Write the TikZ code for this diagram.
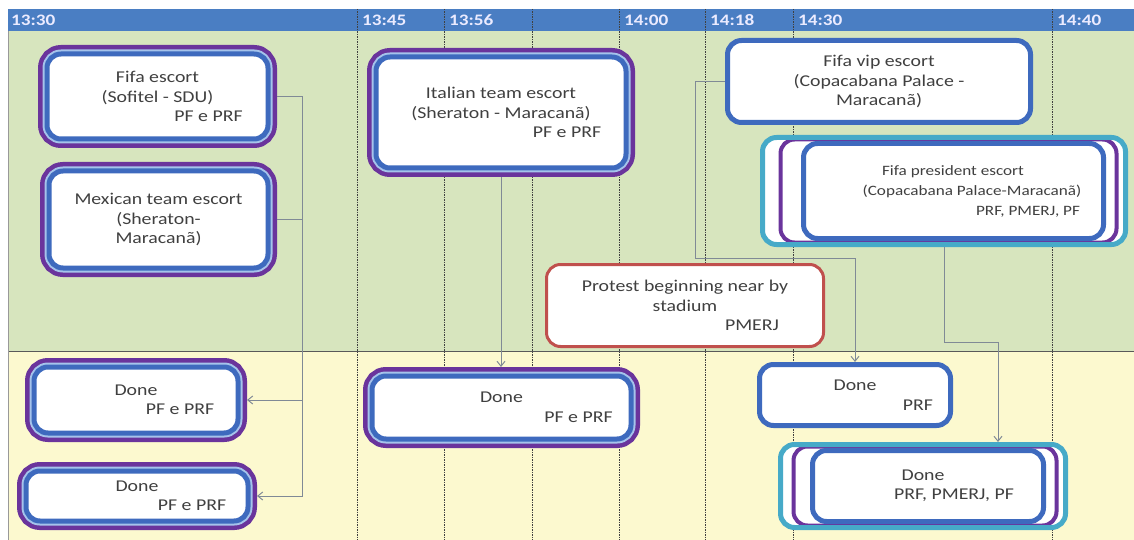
\documentclass[tikz,border=0pt]{standalone}
\usepackage{fontspec}
\setmainfont{Carlito}[FakeStretch=1.2]
\usetikzlibrary{positioning}
\usetikzlibrary{calc}
\usetikzlibrary{arrows.meta}

\definecolor{purpleC}{RGB}{106,52,156}
\definecolor{blueC}{RGB}{62,106,190}
\definecolor{lightC}{RGB}{165,195,235}
\definecolor{cyanC}{RGB}{70,170,200}
\definecolor{redC}{RGB}{192,80,77}
\definecolor{headC}{RGB}{74,126,195}
\definecolor{greenC}{RGB}{215,229,190}
\definecolor{yellowC}{RGB}{252,249,207}
\definecolor{linkC}{RGB}{128,138,150}
\definecolor{textC}{RGB}{64,64,64}

\begin{document}
\begin{tikzpicture}[
    x=1pt, y=-1pt,
    font=\fontsize{16.5}{19.5}\selectfont,
    box/.style={rounded corners=14pt, fill=white, text=textC, align=center, inner sep=0pt},
    escort/.style={box, preaction={draw=purpleC, line width=18pt}, preaction={draw=lightC, line width=9pt}, draw=blueC, line width=5pt, outer sep=9pt},
    plain/.style={box, draw=blueC, line width=5pt, outer sep=2.5pt},
    alert/.style={box, draw=redC, line width=3pt, outer sep=1.5pt},
    stacked/.style 2 args={box, draw=cyanC, line width=5pt, outer sep=2.5pt,
        path picture={
            \draw[draw=purpleC, line width=4pt, fill=white, rounded corners=14pt]
                ($(path picture bounding box.north west)+(#1,2)$) rectangle ($(path picture bounding box.south east)+(-9,-2)$);
            \draw[draw=blueC, line width=5pt, fill=white, rounded corners=14pt]
                ($(path picture bounding box.north west)+(#2,6)$) rectangle ($(path picture bounding box.south east)+(-22,-6)$);
        }},
    timelabel/.style={anchor=west, text=blue!8!white, font=\fontsize{16}{18}\selectfont\bfseries, inner sep=0pt},
    gridline/.style={black!75, line width=0.7pt, dash pattern=on 1.5pt off 1pt},
    wire/.style={draw=linkC, line width=1pt},
    link/.style={wire, -{Straight Barb[length=5pt, width=8pt]}}
]
\useasboundingbox (0,0) rectangle (1134,540);

% Background bands
\fill[headC] (8,9) rectangle (1134,31);
\fill[greenC] (8,31) rectangle (1134,351);
\fill[yellowC] (8,351) rectangle (1134,540);
\draw[black!65, line width=1pt] (8,351) -- (1134,351);
\draw[black!40, line width=0.8pt] (8,31) -- (8,540);

% Time grid
\node[timelabel] (t0) at (11,20) {13:30};
\foreach \x/\t [count=\i] in {357/13:45, 444/13:56, 619/14:00, 705/14:18, 793/14:30, 1052/14:40} {
    \draw[gridline] (\x,9) -- (\x,540);
    \node[timelabel] (t\i) at (\x+5,20) {\t};
}
\draw[gridline] (532,9) -- (532,540);

% Escorts
\node[escort, minimum width=221pt, minimum height=85pt] (fifa) at (157.5,96.5) {Fifa escort\\(Sofitel - SDU)\\\hspace*{102pt}PF e PRF};
\node[escort, minimum width=219pt, minimum height=97pt] (mex) at (158.5,219.5) {Mexican team escort\\(Sheraton-\\Maracanã)};
\node[escort, minimum width=250pt, minimum height=111pt] (ital) at (501,112.5) {Italian team escort\\(Sheraton - Maracanã)\\\hspace*{132pt}PF e PRF};
\node[plain, minimum width=303pt, minimum height=82pt] (vip) at (879,81.5) {Fifa vip escort\\(Copacabana Palace -\\Maracanã)};
\node[stacked={18}{41}, minimum width=363pt, minimum height=107pt, font=\fontsize{14.3}{20}\selectfont] (pres) at (944,191) {\hspace*{18pt}Fifa president escort\\\hspace*{56pt}(Copacabana Palace-Maracanã)\\\hspace*{168pt}PRF, PMERJ, PF};
\node[alert, minimum width=277pt, minimum height=82pt] (protest) at (685,305.5) {Protest beginning  near by\\stadium\\\hspace*{134pt}PMERJ};

% Done
\node[escort, minimum width=204pt, minimum height=66pt] (done1) at (136,400) {Done\\\hspace*{88pt}PF e PRF};
\node[escort, minimum width=222pt, minimum height=50pt] (done2) at (137,496) {Done\\\hspace*{110pt}PF e PRF};
\node[escort, minimum width=259pt, minimum height=63pt] (done3) at (501.5,407.5) {Done\\\hspace*{154pt}PF e PRF};
\node[plain, minimum width=191pt, minimum height=61pt] (doneprf) at (855,395) {Done\\\hspace*{126pt}PRF};
\node[stacked={13}{32}, minimum width=285pt, minimum height=83pt] (donepm) at (923,486) {Done\\\hspace*{62pt}PRF, PMERJ, PF};

% Connectors
\coordinate (spine) at ($(fifa.east)+(25,0)$);
\draw[wire] (fifa.east) -- (spine);
\draw[wire] (mex.east) -- (mex.east -| spine);
\draw[link] (spine) |- (done1.east);
\draw[link] (spine) |- (done2.east);
\draw[link] (ital.south) -- (ital.south |- done3.north);
\coordinate (vipbend) at (695,258);
\draw[link] (vip.west) -| (vipbend) -| (doneprf.north);
\coordinate (presbend) at (998,342);
\draw[link] (pres.south) |- (presbend) -- (presbend |- donepm.north);

\end{tikzpicture}
\end{document}
